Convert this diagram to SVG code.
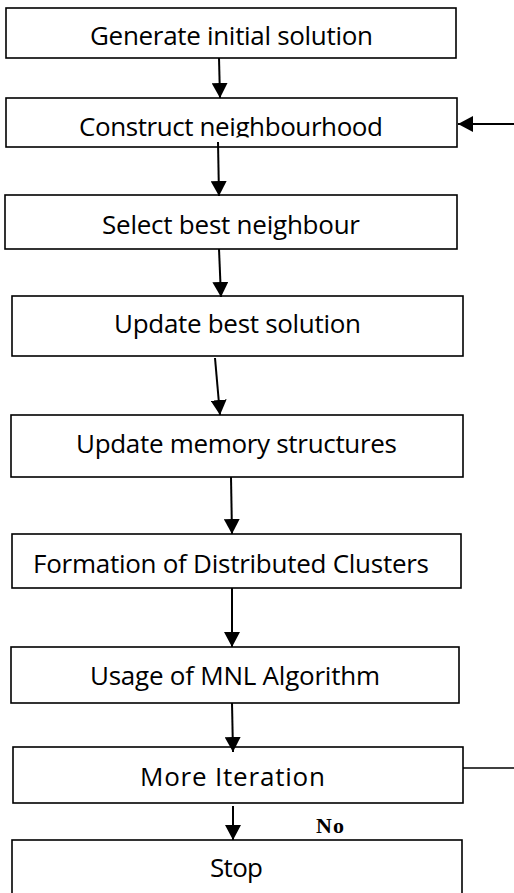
<svg xmlns="http://www.w3.org/2000/svg" width="514" height="893" viewBox="0 0 514 893">
<style>
.box{fill:#fff;stroke:#000;stroke-width:1.6}
.lbl{font-family:"Open Sans","Noto Sans","Liberation Sans",sans-serif;font-size:26px;fill:#000;text-anchor:middle}
.con{stroke:#000;stroke-width:2;fill:none}
.thin{stroke:#000;stroke-width:1.3;fill:none}
.no{font-family:"Liberation Serif","Times New Roman",serif;font-weight:bold;font-size:22px;fill:#000}
</style>
<defs>
<marker id="ah" markerUnits="userSpaceOnUse" markerWidth="15" markerHeight="16" viewBox="0 0 15 16" refX="15" refY="8" orient="auto">
<path d="M0,0 L15,8 L0,16 z" fill="#000"/>
</marker>
<clipPath id="clip2"><rect x="0" y="98" width="514" height="39.5"/></clipPath>
</defs>
<rect width="514" height="893" fill="#fff"/>
<g id="n1"><rect class="box" x="6" y="8" width="450" height="50"/><text class="lbl" x="231.5" y="45" textLength="283">Generate initial solution</text></g>
<g id="n2"><rect class="box" x="6" y="98" width="451" height="49"/><text class="lbl" x="231" y="136" textLength="304" clip-path="url(#clip2)">Construct neighbourhood</text></g>
<g id="n3"><rect class="box" x="5" y="195" width="452" height="54"/><text class="lbl" x="231" y="234" textLength="258">Select best neighbour</text></g>
<g id="n4"><rect class="box" x="12" y="296" width="451" height="60"/><text class="lbl" x="237.5" y="333" textLength="247">Update best solution</text></g>
<g id="n5"><rect class="box" x="11" y="415" width="452" height="62"/><text class="lbl" x="236.5" y="453" textLength="321">Update memory structures</text></g>
<g id="n6"><rect class="box" x="12" y="534" width="449" height="54"/><text class="lbl" x="231" y="573" textLength="396">Formation of Distributed Clusters</text></g>
<g id="n7"><rect class="box" x="11" y="647" width="448" height="56"/><text class="lbl" x="235" y="685" textLength="290">Usage of MNL Algorithm</text></g>
<g id="n8"><rect class="box" x="13" y="747" width="450" height="56"/><text class="lbl" x="232.5" y="786" textLength="185">More Iteration</text></g>
<g id="n9"><rect class="box" x="12" y="840" width="450" height="70"/><text class="lbl" x="236.5" y="877" textLength="53">Stop</text></g>
<g id="connectors">
<line class="con" x1="219" y1="58" x2="220" y2="98" marker-end="url(#ah)"/>
<line class="con" x1="218" y1="142" x2="219" y2="196" marker-end="url(#ah)"/>
<line class="con" x1="219" y1="249" x2="221" y2="297" marker-end="url(#ah)"/>
<line class="con" x1="215" y1="358" x2="220" y2="415" marker-end="url(#ah)"/>
<line class="con" x1="231" y1="477" x2="232" y2="534" marker-end="url(#ah)"/>
<line class="con" x1="232" y1="588" x2="232" y2="647" marker-end="url(#ah)"/>
<line class="con" x1="232" y1="703" x2="233" y2="752" marker-end="url(#ah)"/>
<line class="con" x1="233" y1="806" x2="233" y2="840" marker-end="url(#ah)"/>
<line class="thin" x1="463" y1="768" x2="514" y2="768"/>
<line class="con" x1="514" y1="124" x2="458" y2="124" marker-end="url(#ah)"/>
<text class="no" x="316" y="833" textLength="28">No</text>
</g>
</svg>
